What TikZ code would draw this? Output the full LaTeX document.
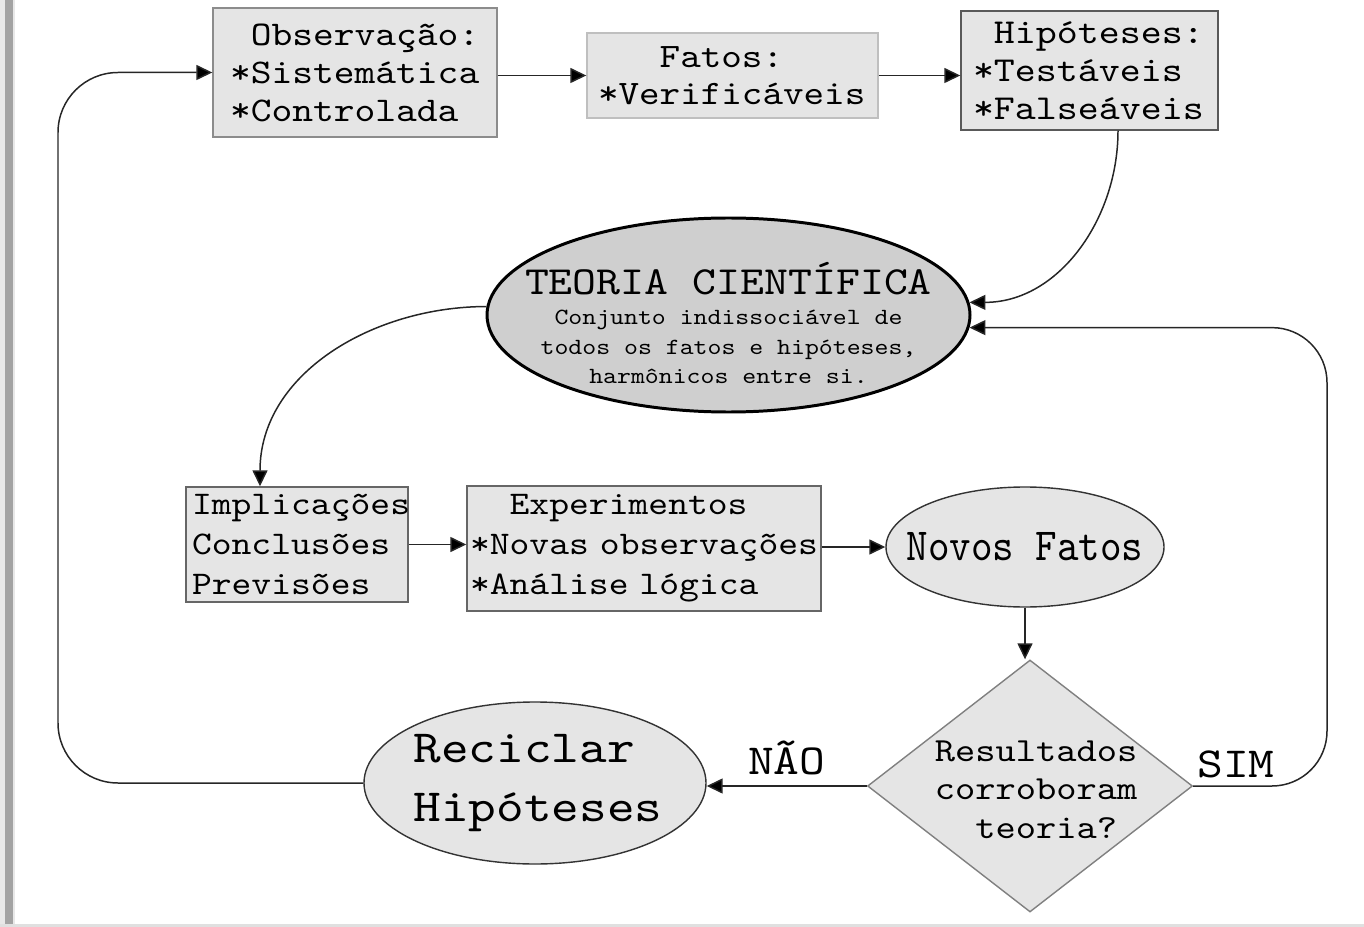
\documentclass[tikz,border=0pt]{standalone}
\usepackage{fontspec}
\newfontfamily\cour{lmmono10-regular}[Extension=.otf, FakeStretch=1.143]
\newfontfamily\courn{lmmono10-regular}[Extension=.otf, FakeStretch=0.894]
\newcommand\setfs[2]{\fontsize{#1}{#2}\selectfont}
\usetikzlibrary{positioning, shapes.geometric, arrows.meta}
\tikzset{mybox/.style={draw=black!60, fill=black!10, line width=0.8pt, align=left, inner ysep=0pt}}
\tikzset{myell/.style={ellipse, draw=black!80, fill=black!10, line width=0.8pt, inner sep=0pt}}
\tikzset{mydec/.style={diamond, draw=black!50, fill=black!10, line width=0.8pt, inner sep=0pt}}
\tikzset{myarr/.style={-{Triangle[length=0.32cm, width=0.3cm, fill=black]}, draw=black!85, line width=0.85pt}}
\begin{document}
\begin{tikzpicture}
    \useasboundingbox (0,0) rectangle (27.28,-18.54);
    \fill[black!9] (0,0) rectangle (0.3,-18.54);
    \fill[black!36] (0.1,0) rectangle (0.26,-18.5);
    \fill[black!12] (0,-18.48) rectangle (27.28,-18.54);

    % linha de cima
    \node[mybox, draw=black!45, inner xsep=0.34cm, text width=5.0cm, minimum height=2.58cm,
          font={\cour\setfs{19.7}{21.6}}] (obs) at (7.10,-1.45)
          {\hphantom{x}Observação:\\{*}Sistemática\\{*}Controlada};
    \node[mybox, draw=black!25, inner xsep=0.22cm, text width=5.38cm, minimum height=1.70cm,
          font={\cour\setfs{19.5}{21}}] (fatos) at (14.65,-1.51)
          {\hphantom{xxx}Fatos:\\{*}Verificáveis};
    \node[mybox, draw=black!65, inner xsep=0.24cm, text width=4.66cm, minimum height=2.38cm,
          font={\cour\setfs{19.9}{21.6}}] (hip) at (21.79,-1.41)
          {\hphantom{x}Hipóteses:\\{*}Testáveis\\{*}Falseáveis};

    \node[ellipse, draw=black, fill=black!19, line width=1.7pt, inner sep=0pt,
          minimum width=9.66cm, minimum height=3.88cm,
          label={[font={\cour\setfs{22.7}{24}}, inner sep=0pt, yshift=0.72cm]center:TEORIA CIENTÍFICA},
          label={[font={\cour\setfs{13.2}{16.8}}, align=center, inner sep=0pt, yshift=-0.64cm]center:Conjunto indissociável de\\todos os fatos e hipóteses,\\harmônicos entre si.}]
          (teoria) at (14.57,-6.30) {};

    % linha do meio
    \node[mybox, inner xsep=0.12cm, text width=4.2cm, minimum height=2.30cm,
          font={\cour\setfs{18.8}{23}}] (impl) at (5.94,-10.89)
          {\mbox{Implicações}\\Conclusões\\Previsões};
    \node[mybox, inner xsep=0.06cm, text width=6.96cm, minimum height=2.50cm,
          font={\cour\setfs{18.8}{22.8}}] (exp) at (12.88,-10.97)
          {\hphantom{xx}Experimentos\\\mbox{{*}Novas observações}\\{*}Análise lógica};
    \node[myell, minimum width=5.56cm, minimum height=2.40cm,
          label={[font={\courn\setfs{26.1}{28}}, inner sep=0pt]center:Novos Fatos}]
          (novos) at (20.50,-10.94) {};

    % linha de baixo
    \node[mydec, minimum width=6.50cm, minimum height=5.04cm,
          label={[font={\cour\setfs{19.2}{21.9}}, align=left, inner sep=0pt, xshift=0.12cm, yshift=-0.07cm]center:Resultados\\corroboram\\\hphantom{xx}teoria?}]
          (dec) at (20.60,-15.72) {};
    \node[myell, minimum width=6.84cm, minimum height=3.24cm,
          label={[font={\cour\setfs{26.2}{34}}, align=left, inner sep=0pt, xshift=0.06cm]center:Reciclar\\Hipóteses}]
          (rec) at (10.70,-15.66) {};

    \coordinate (back) at (1.16,-15.66);
    \coordinate (simr) at (26.54,-15.72);

    \draw[myarr] (obs.east |- fatos.west) -- (fatos.west);
    \draw[myarr] (fatos.east) -- (fatos.east -| hip.west);
    \draw[myarr] ([xshift=0.57cm]hip.south) to[out=-90, in=0] (teoria.3);
    \draw[myarr] (teoria.178) to[out=180, in=90] ([xshift=-0.74cm]impl.north);
    \draw[myarr] (impl.east) -- (impl.east -| exp.west);
    \draw[myarr] (exp.east |- novos.west) -- (novos.west);
    \draw[myarr] (novos.south) -- (novos.south |- dec.north);
    \draw[myarr] (dec.west) -- (dec.west -| rec.east)
        node[midway, above=0.2cm, inner sep=0pt, font={\cour\setfs{24.4}{26}}] {NÃO};
    \draw[myarr, rounded corners=1.1cm] (dec.east) -- (simr)
        node[pos=0.32, above=0.14cm, inner sep=0pt, font={\cour\setfs{24.4}{26}}] {SIM}
        -- (simr |- teoria.-3) -- (teoria.-3);
    \draw[myarr, rounded corners=1.2cm] (rec.west) -- (back) -- (back |- obs.west) -- (obs.west);
\end{tikzpicture}
\end{document}
